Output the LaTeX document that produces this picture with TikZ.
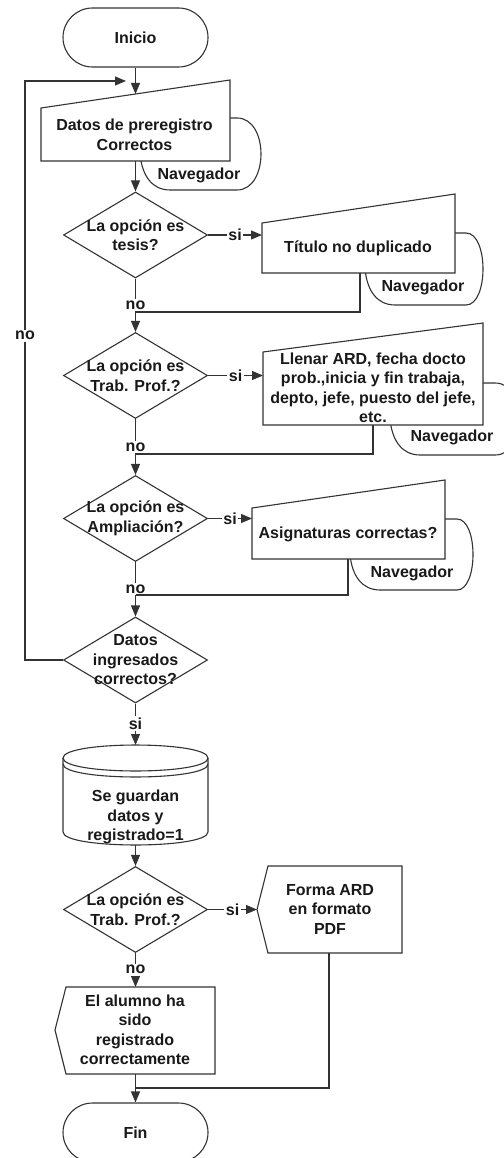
\documentclass[tikz,border=0pt]{standalone}
\usepackage{fontspec}
\setmainfont{Liberation Sans}
\usetikzlibrary{arrows.meta,shapes.geometric,shapes.misc}

% "Navegador" display shape: pointed left side, straight top and bottom, rounded right side
% #1 left x, #2 middle y, #3 top y, #4 bottom y, #5 x where the right bulge starts, #6 bulge depth
\newcommand{\navshape}[6]{%
  \draw[shp] (#1,#2) .. controls ({#1+2},{#2+0.6*(#4-#2)}) and ({#1+12},#4) .. ({#1+30},#4)
    -- (#5,#4) .. controls ({#5+1.333*#6},#4) and ({#5+1.333*#6},#3) .. (#5,#3)
    -- ({#1+30},#3) .. controls ({#1+12},#3) and ({#1+2},{#2-0.6*(#2-#3)}) .. cycle;}

\begin{document}
\begin{tikzpicture}[x=1pt,y=-1pt,
  line/.style={draw=black!80, line width=1.1pt},
  arr/.style={line, -{Triangle[length=11pt,width=9pt]}},
  shp/.style={line, fill=white},
  txt/.style={font=\bfseries\fontsize{16}{19.5}\selectfont, text=black!90, align=center, inner sep=0pt},
  lab/.style={txt, fill=white, inner sep=1.5pt},
  term/.style={shp, rounded rectangle, minimum width=145pt, minimum height=59pt, txt},
  dia/.style={shp, diamond, minimum width=144pt, minimum height=86pt, inner sep=0pt},
]
\useasboundingbox (0,0) rectangle (503,1158);

% ---------- terminators ----------
\node[term] (inicio) at (135.5,37.5) {Inicio};
\node[term] (fin) at (135.5,1132.5) {Fin};

% ---------- browser displays (behind the input boxes) ----------
\navshape{140}{154}{118}{190}{237}{24}
\navshape{365}{269}{233}{305}{466}{17}
\navshape{390}{419}{383}{455}{495}{25}
\navshape{350}{554.5}{519}{590}{457}{16}
\node[txt] (nav1) at (199,175) {Navegador};
\node[txt] (nav2) at (423,287) {Navegador};
\node[txt] (nav3) at (452,437) {Navegador};
\node[txt] (nav4) at (412,573) {Navegador};

% ---------- manual input boxes ----------
\draw[shp] (41,161) -- (41,108) -- (230,80) -- (230,161) -- cycle;
\node[txt] (b1) at (134.5,135) {Datos de preregistro\\Correctos};
\coordinate (b1in) at (135.5,94);
\coordinate (b1out) at (135.5,161);

\draw[shp] (262,273) -- (262,223) -- (455,194) -- (455,273) -- cycle;
\node[txt] (b2) at (358,248) {Título no duplicado};
\coordinate (b2l) at (262,248);
\coordinate (b2out) at (360,273);

\draw[shp] (263,425) -- (263,352) -- (483,323) -- (483,425) -- cycle;
\node[txt] (b3) at (373,388) {Llenar ARD, fecha docto\\prob.,inicia y fin trabaja,\\depto, jefe, puesto del jefe,\\etc.};
\coordinate (b3l) at (263,388);
\coordinate (b3out) at (373,425);

\draw[shp] (252,559) -- (252,508) -- (445,480) -- (445,559) -- cycle;
\node[txt] (b4) at (348,534) {Asignaturas correctas?};
\coordinate (b4l) at (252,534);
\coordinate (b4out) at (348,559);

% ---------- decisions ----------
\node[dia] (d1) at (135.5,235) {};
\node[txt] (d1t) at (d1) {La opción es\\tesis?};
\node[dia] (d2) at (135.5,375.5) {};
\node[txt] (d2t) at (d2) {La opción es\\Trab. Prof.?};
\node[dia] (d3) at (135.5,518.5) {};
\node[txt] (d3t) at (d3) {La opción es\\Ampliación?};
\node[dia] (d4) at (135.5,660) {};
\node[txt] (d4t) at (d4) {Datos\\ingresados\\correctos?};
\node[dia] (d5) at (135.5,909.5) {};
\node[txt] (d5t) at (d5) {La opción es\\Trab. Prof.?};

% ---------- stored data ----------
\draw[shp] (63,758) -- (63,832) .. controls (63,849.3) and (208,849.3) .. (208,832)
  -- (208,758) .. controls (208,740.7) and (63,740.7) .. (63,758) -- cycle;
\draw[line] (63,758) .. controls (63,775.3) and (208,775.3) .. (208,758);
\draw[line] (63,764) .. controls (63,781.3) and (208,781.3) .. (208,764);
\node[txt] (db) at (135.5,817) {Se guardan\\datos y\\registrado=1};
\coordinate (dbin) at (135.5,745);
\coordinate (dbout) at (135.5,845);

% ---------- displays ----------
\draw[shp] (257,909.5) -- (268,866) -- (402,866) -- (402,953) -- (268,953) -- cycle;
\node[txt] (pdf) at (330,909) {Forma ARD\\en formato\\PDF};
\coordinate (pdfl) at (257,909.5);
\coordinate (pdfout) at (329,953);

\draw[shp] (55,1030) -- (66,987) -- (215,987) -- (215,1074) -- (66,1074) -- cycle;
\node[txt] (msg) at (135,1030) {El alumno ha\\sido\\registrado\\correctamente};
\coordinate (msgin) at (135.5,987);
\coordinate (msgout) at (135.5,1074);

% ---------- junction points ----------
\coordinate (j1) at (135.5,312);
\coordinate (j2) at (135.5,454);
\coordinate (j3) at (135.5,595);
\coordinate (j4) at (135.5,1088);
\coordinate (lp1) at (25,660);
\coordinate (lp2) at (25,81);
\coordinate (lpend) at (126,81);

% ---------- connectors ----------
\draw[arr] (inicio.south) -- (b1in);
\draw[arr] (b1out) -- (d1.north);

\draw[arr] (d1.east) -- node[lab]{si} (d1.east -| b2l);
\draw[arr] (d1.south) -- node[lab,pos=0.5]{no} (d2.north);
\draw[line] (b2out) |- (j1);

\draw[arr] (d2.east) -- node[lab]{si} (d2.east -| b3l);
\draw[arr] (d2.south) -- node[lab,pos=0.5]{no} (d3.north);
\draw[line] (b3out) |- (j2);

\draw[arr] (d3.east) -- node[lab]{si} (d3.east -| b4l);
\draw[arr] (d3.south) -- node[lab,pos=0.5]{no} (d4.north);
\draw[line] (b4out) |- (j3);

\draw[arr] (d4.west) -- (lp1) -- node[lab,pos=0.56]{no} (lp2) -- (lpend);
\draw[arr] (d4.south) -- node[lab,pos=0.48]{si} (dbin);

\draw[arr] (dbout) -- (d5.north);
\draw[arr] (d5.east) -- node[lab]{si} (pdfl);
\draw[arr] (d5.south) -- node[lab,pos=0.49]{no} (msgin);
\draw[arr] (msgout) -- (fin.north);
\draw[line] (pdfout) |- (j4);

\end{tikzpicture}
\end{document}
